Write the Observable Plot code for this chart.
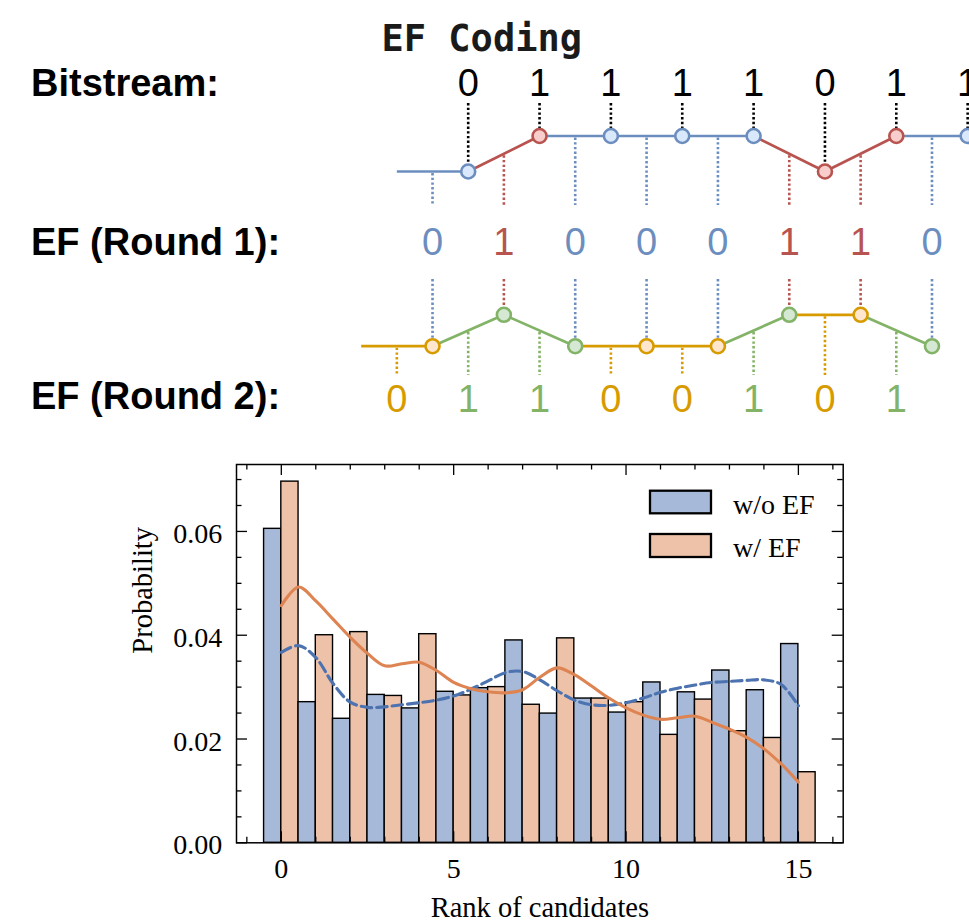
<!DOCTYPE html>
<html><head><meta charset="utf-8">
<script src="https://cdn.jsdelivr.net/npm/d3@7"></script>
<script src="https://cdn.jsdelivr.net/npm/@observablehq/plot@0.6"></script>
<style>
body{margin:0;background:#fff;}
#wrap{position:relative;width:969px;height:920px;overflow:hidden;background:#fff;}
#top{position:absolute;left:0;top:0;}
#bottom{position:absolute;left:0;top:440px;}
</style></head><body>
<div id="wrap"><div id="top"></div><div id="bottom"></div></div>
<script>
// ---------------- DATA ----------------
const diagramTitle = "EF Coding";
const rowLabels = ["Bitstream:", "EF (Round 1):", "EF (Round 2):"];
const bitstream = [0, 1, 1, 1, 1, 0, 1, 1];
const efRound1  = [0, 1, 0, 0, 0, 1, 1, 0];
const efRound2  = [0, 1, 1, 0, 0, 1, 0, 1];

const ranks = [0, 1, 2, 3, 4, 5, 6, 7, 8, 9, 10, 11, 12, 13, 14, 15];
const seriesNames = ["w/o EF", "w/ EF"];
const probWithoutEF = [0.0605, 0.0271, 0.0239, 0.0285, 0.0259, 0.0291, 0.0298, 0.0390, 0.0249, 0.0278, 0.0251, 0.0309, 0.0290, 0.0332, 0.0294, 0.0383];
const probWithEF    = [0.0696, 0.0400, 0.0406, 0.0283, 0.0402, 0.0284, 0.0300, 0.0266, 0.0394, 0.0278, 0.0271, 0.0208, 0.0276, 0.0215, 0.0202, 0.0136];
const kdeX = [0, 0.5, 1, 1.5, 2, 2.5, 3, 3.5, 4, 4.5, 5, 5.5, 6, 6.5, 7, 7.5, 8, 8.5, 9, 9.5, 10, 10.5, 11, 11.5, 12, 12.5, 13, 13.5, 14, 14.5, 15];
const kdeWithoutEF = [0.0367, 0.0380, 0.0357, 0.0307, 0.0271, 0.0261, 0.0262, 0.0266, 0.0270, 0.0275, 0.0283, 0.0296, 0.0312, 0.0328, 0.0330, 0.0314, 0.0293, 0.0275, 0.0266, 0.0265, 0.0270, 0.0279, 0.0290, 0.0298, 0.0304, 0.0309, 0.0311, 0.0313, 0.0314, 0.0305, 0.0264];
const kdeWithEF    = [0.0457, 0.0493, 0.0466, 0.0431, 0.0396, 0.0365, 0.0341, 0.0345, 0.0348, 0.0332, 0.0309, 0.0297, 0.0291, 0.0289, 0.0295, 0.0319, 0.0337, 0.0324, 0.0302, 0.0279, 0.0260, 0.0246, 0.0238, 0.0241, 0.0244, 0.0232, 0.0219, 0.0203, 0.0181, 0.0152, 0.0117];
const xTicks = [0, 5, 10, 15];
const yTicks = [0, 0.02, 0.04, 0.06];
const xLabel = "Rank of candidates";
const yLabel = "Probability";

// ---------------- TOP DIAGRAM ----------------
const SANS = "Liberation Sans, Arial, Helvetica, sans-serif";
const MONO = "DejaVu Sans Mono, monospace";
const SERIF = "Liberation Serif, Times New Roman, serif";
const pal = {
  blue: "#6c8ebf", blueF: "#dae8fc", red: "#b85450", redF: "#f8cecc",
  green: "#82b366", greenF: "#d5e8d4", orange: "#d79b00", orangeF: "#ffe6cc"
};
const L = {
  titleBase: 50.5, bitBase: 95, bitDotTop: 103, hi1: 135.5, lo1: 171, stub1End: 205,
  ef1Base: 254, stub2Top: 279, hi2: 314.3, lo2: 345.7, stub3End: 375, ef2Base: 411,
  labelBase: [95.5, 254, 408]
};
const STEP = 71.35, X0 = 467.7, TW = 969, TH = 440;
const lvl1 = b => b ? L.hi1 : L.lo1;
const lvl2 = b => b ? L.hi2 : L.lo2;
const c1 = v => v ? pal.red : pal.blue;
const f1 = v => v ? pal.redF : pal.blueF;
const c2 = v => v ? pal.green : pal.orange;
const f2 = v => v ? pal.greenF : pal.orangeF;

const bitPts = bitstream.map((b, i) => ({pos: i, b, flag: efRound1[i]}));
const bitSegs = bitstream.map((b, i) => ({x1: i - 1, y1: lvl1(i ? bitstream[i - 1] : 0), x2: i, y2: lvl1(b), flag: efRound1[i]}));
const ef1Items = efRound1.map((v, j) => ({pos: j - 0.5, v, midY: (bitSegs[j].y1 + bitSegs[j].y2) / 2}));
const r2Pts = efRound1.map((v, j) => ({pos: j - 0.5, lev: v, flag: efRound2[j]}));
const r2Segs = efRound1.map((v, j) => ({x1: j - 1.5, y1: lvl2(j ? efRound1[j - 1] : 0), x2: j - 0.5, y2: lvl2(v), flag: efRound2[j]}));
const ef2Items = efRound2.map((v, j) => ({pos: j - 1, v, midY: (r2Segs[j].y1 + r2Segs[j].y2) / 2}));

const dotted = {strokeWidth: 2.6, strokeDasharray: "2.4,2.3"};
const DIG = 38;

const topPlot = Plot.plot({
  width: TW, height: TH,
  marginLeft: 0, marginRight: 0, marginTop: 0, marginBottom: 0,
  x: {domain: [-X0 / STEP, (TW - X0) / STEP], range: [0, TW], axis: null},
  y: {domain: [0, TH], range: [0, TH], axis: null},
  color: {type: "identity"},
  style: {background: "transparent", fontFamily: SANS, overflow: "hidden"},
  marks: [
    Plot.ruleX(bitPts, {x: "pos", y1: () => L.bitDotTop, y2: d => lvl1(d.b), stroke: "black", ...dotted}),
    Plot.ruleX(ef1Items, {x: "pos", y1: d => d.midY + 2, y2: () => L.stub1End, stroke: d => c1(d.v), ...dotted}),
    Plot.ruleX(ef1Items, {x: "pos", y1: () => L.stub2Top, y2: d => lvl2(d.v), stroke: d => c1(d.v), ...dotted}),
    Plot.ruleX(ef2Items, {x: "pos", y1: d => d.midY + 2, y2: () => L.stub3End, stroke: d => c2(d.v), ...dotted}),
    Plot.link(bitSegs, {x1: "x1", y1: "y1", x2: "x2", y2: "y2", stroke: d => c1(d.flag), strokeWidth: 2.7}),
    Plot.link(r2Segs, {x1: "x1", y1: "y1", x2: "x2", y2: "y2", stroke: d => c2(d.flag), strokeWidth: 2.7}),
    Plot.dot(bitPts, {x: "pos", y: d => lvl1(d.b), r: 7, fill: d => f1(d.flag), stroke: d => c1(d.flag), strokeWidth: 2.6}),
    Plot.dot(r2Pts, {x: "pos", y: d => lvl2(d.lev), r: 7, fill: d => f2(d.flag), stroke: d => c2(d.flag), strokeWidth: 2.6}),
    Plot.text(bitPts, {x: "pos", y: () => L.bitBase, text: d => String(d.b), fill: "black", fontSize: DIG, fontFamily: SANS, lineAnchor: "bottom"}),
    Plot.text(ef1Items, {x: "pos", y: () => L.ef1Base, text: d => String(d.v), fill: d => c1(d.v), fontSize: DIG, fontFamily: SANS, lineAnchor: "bottom"}),
    Plot.text(ef2Items, {x: "pos", y: () => L.ef2Base, text: d => String(d.v), fill: d => c2(d.v), fontSize: DIG, fontFamily: SANS, lineAnchor: "bottom"}),
    Plot.text(rowLabels, {frameAnchor: "left", y: (d, i) => L.labelBase[i], text: d => d, dx: 30.5, textAnchor: "start", lineAnchor: "bottom", fontSize: 38, fontWeight: "bold", fontFamily: SANS, fill: "black"}),
    Plot.text([diagramTitle], {frameAnchor: "left", y: () => L.titleBase, text: d => d, dx: 381, textAnchor: "start", lineAnchor: "bottom", fontSize: 37, fontWeight: "bold", fontFamily: MONO, fill: "#1a1a1a"})
  ]
});
document.getElementById("top").appendChild(topPlot);

// ---------------- BOTTOM CHART ----------------
const BW = 969, BH = 480, OFF = 440;
const FL = 236, FR = 842.7, FT = 464 - OFF, FB = 842.3 - OFF;
const xDom = [-1.3, 16.3], yDom = [0, 0.0729];
const pxX = (FR - FL) / (xDom[1] - xDom[0]);
const pxY = (FB - FT) / (yDom[1] - yDom[0]);
const xAt = px => xDom[0] + (px - FL) / pxX;
const yAt = pyPage => yDom[0] + (FB + OFF - pyPage) / pxY;
const xLen = l => l / pxX, yLen = l => l / pxY;

const barColors = ["#a6b9d8", "#eec2a9"];
const lineColors = ["#4c72b0", "#dd8452"];

const bars = ranks.flatMap((r, i) => [
  {x1: r - 0.5, x2: r, y: probWithoutEF[i], s: 0},
  {x1: r, x2: r + 0.5, y: probWithEF[i], s: 1}
]);
const kdeA = kdeX.map((x, i) => ({x, y: kdeWithoutEF[i]}));
const kdeB = kdeX.map((x, i) => ({x, y: kdeWithEF[i]}));

const xMinor = d3.range(-1, 17).filter(v => !xTicks.includes(v));
const yMinor = d3.range(0, 15).map(k => k * 0.005).filter(v => !yTicks.some(t => Math.abs(t - v) < 1e-9));
const MAJ = 11, MIN = 5.5, TSW = 1.3;

const legend = [
  {name: seriesNames[0], top: 490.7, bot: 513.3, base: 513, s: 0},
  {name: seriesNames[1], top: 534, bot: 557, base: 556, s: 1}
];

const bottomPlot = Plot.plot({
  width: BW, height: BH,
  marginLeft: FL, marginRight: BW - FR, marginTop: FT, marginBottom: BH - FB,
  x: {domain: xDom, axis: null},
  y: {domain: yDom, axis: null},
  color: {type: "identity"},
  style: {background: "transparent", fontFamily: SERIF},
  marks: [
    Plot.rect(bars, {x1: "x1", x2: "x2", y1: () => 0, y2: "y", fill: d => barColors[d.s], stroke: "black", strokeWidth: 1.4}),
    Plot.line(kdeA, {x: "x", y: "y", stroke: lineColors[0], strokeWidth: 3.1, strokeDasharray: "10.5,5", curve: "catmull-rom"}),
    Plot.line(kdeB, {x: "x", y: "y", stroke: lineColors[1], strokeWidth: 3.1, curve: "catmull-rom"}),
    Plot.ruleX(xTicks, {x: d => d, y1: () => yDom[0], y2: () => yDom[0] + yLen(MAJ), stroke: "black", strokeWidth: TSW}),
    Plot.ruleX(xMinor, {x: d => d, y1: () => yDom[0], y2: () => yDom[0] + yLen(MIN), stroke: "black", strokeWidth: TSW}),
    Plot.ruleX(xTicks, {x: d => d, y1: () => yDom[1] - yLen(MAJ), y2: () => yDom[1], stroke: "black", strokeWidth: TSW}),
    Plot.ruleX(xMinor, {x: d => d, y1: () => yDom[1] - yLen(MIN), y2: () => yDom[1], stroke: "black", strokeWidth: TSW}),
    Plot.ruleY(yTicks, {y: d => d, x1: () => xDom[0], x2: () => xDom[0] + xLen(MAJ), stroke: "black", strokeWidth: TSW}),
    Plot.ruleY(yMinor, {y: d => d, x1: () => xDom[0], x2: () => xDom[0] + xLen(MIN), stroke: "black", strokeWidth: TSW}),
    Plot.ruleY(yTicks, {y: d => d, x1: () => xDom[1] - xLen(MAJ), x2: () => xDom[1], stroke: "black", strokeWidth: TSW}),
    Plot.ruleY(yMinor, {y: d => d, x1: () => xDom[1] - xLen(MIN), x2: () => xDom[1], stroke: "black", strokeWidth: TSW}),
    Plot.frame({stroke: "black", strokeWidth: 1.5}),
    Plot.text(xTicks, {x: d => d, text: d => String(d), frameAnchor: "bottom", dy: 877 - 842.3, lineAnchor: "bottom", fontSize: 28, fontFamily: SERIF, fill: "black"}),
    Plot.text(yTicks, {y: d => d, text: d => d.toFixed(2), frameAnchor: "left", dx: -14.3, dy: 11.5, textAnchor: "end", lineAnchor: "bottom", fontSize: 28, fontFamily: SERIF, fill: "black"}),
    Plot.text([xLabel], {text: d => d, frameAnchor: "bottom", dy: 916.5 - 842.3, lineAnchor: "bottom", fontSize: 28.5, fontFamily: SERIF, fill: "black"}),
    Plot.text([yLabel], {text: d => d, frameAnchor: "left", dx: 151 - FL, rotate: -90, lineAnchor: "bottom", fontSize: 28.5, fontFamily: SERIF, fill: "black"}),
    Plot.rect(legend, {x1: () => xAt(650), x2: () => xAt(711), y1: d => yAt(d.bot), y2: d => yAt(d.top), fill: d => barColors[d.s], stroke: "black", strokeWidth: 2.3}),
    Plot.text(legend, {x: () => xAt(732.5), y: d => yAt(d.base), text: "name", textAnchor: "start", lineAnchor: "bottom", fontSize: 28, fontFamily: SERIF, fill: "black"})
  ]
});
document.getElementById("bottom").appendChild(bottomPlot);
</script>
</body></html>
